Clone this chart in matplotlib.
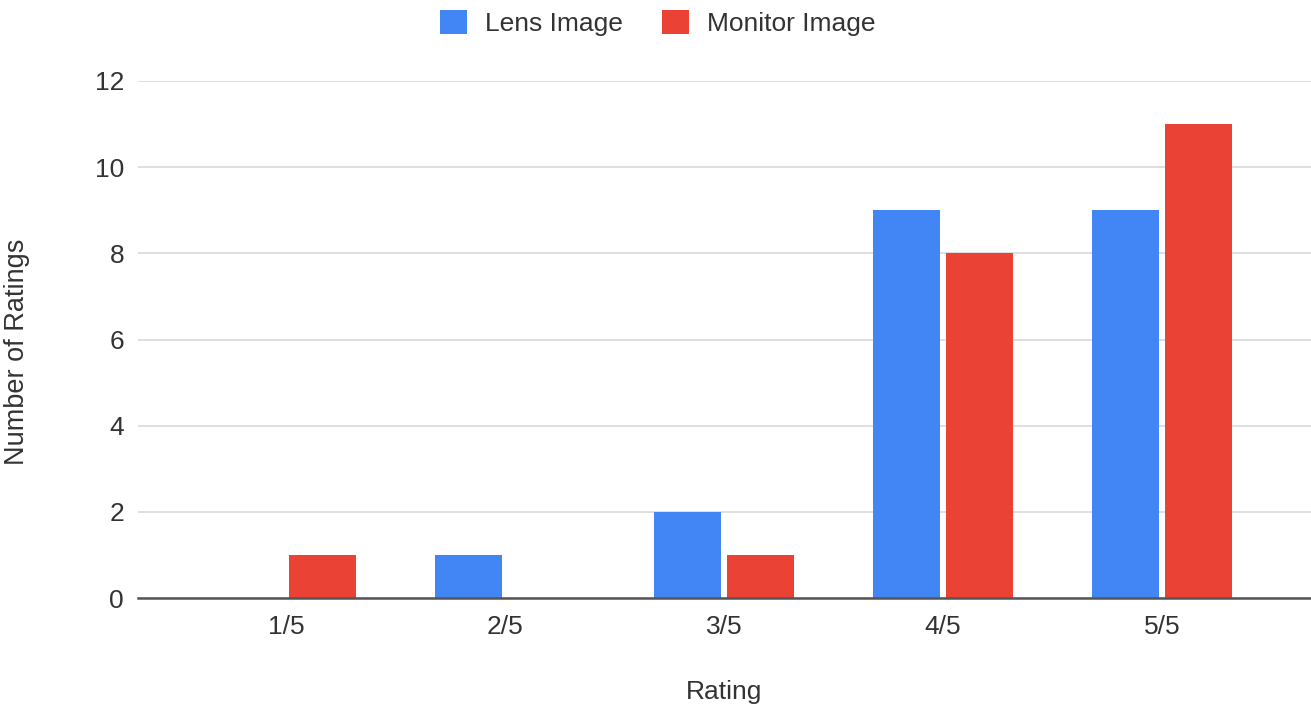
import matplotlib
matplotlib.use("Agg")
import matplotlib.pyplot as plt
import numpy as np

plt.rcParams['font.family'] = ['Liberation Sans', 'DejaVu Sans']

ratings = ["1/5", "2/5", "3/5", "4/5", "5/5"]
lens = [0, 1, 2, 9, 9]
monitor = [1, 0, 1, 8, 11]

blue = "#4285F4"
red = "#EA4335"
fs = 19

fig = plt.figure(figsize=(13.11, 7.13), dpi=100)
ax = fig.add_axes([138 / 1311, 1 - 598 / 713, (1311 - 138) / 1311, (598 - 81) / 713])

x = np.arange(len(ratings))
w = 0.305
gap = 0.014
ax.bar(x - w / 2 - gap, lens, w, color=blue, label="Lens Image", zorder=3)
ax.bar(x + w / 2 + gap, monitor, w, color=red, label="Monitor Image", zorder=3)

ax.set_xlim(-0.676, 4.68)
ax.set_ylim(0, 12)
ax.set_yticks(range(0, 13, 2))
ax.set_xticks(x)
ax.set_xticklabels(ratings)
ax.grid(axis="y", color="#d9d9d9", linewidth=1.2, zorder=0)
for s in ["top", "right", "left"]:
    ax.spines[s].set_visible(False)
ax.spines["bottom"].set_color("#555555")
ax.spines["bottom"].set_linewidth(1.8)
ax.spines["bottom"].set_zorder(4)
ax.tick_params(length=0, labelsize=fs, colors="#333333")
ax.tick_params(axis="y", pad=10)
ax.tick_params(axis="x", pad=12)

ax.set_ylabel("Number of Ratings", fontsize=19.5, color="#333333")
ax.yaxis.set_label_coords(-108 / 1173, (598 - 352) / 517)
ax.set_xlabel("Rating", fontsize=fs, color="#333333")
ax.xaxis.set_label_coords(0.5, -(680 - 598) / 517)
ax.xaxis.label.set_verticalalignment("top")

leg = fig.legend(loc="center", bbox_to_anchor=(658 / 1311, 1 - 23 / 713), ncol=2,
                 frameon=False, fontsize=fs, handlelength=1.0, handleheight=1.0,
                 columnspacing=1.5, handletextpad=0.7)
for t in leg.get_texts():
    t.set_color("#333333")

fig.savefig("out.png", dpi=100)
